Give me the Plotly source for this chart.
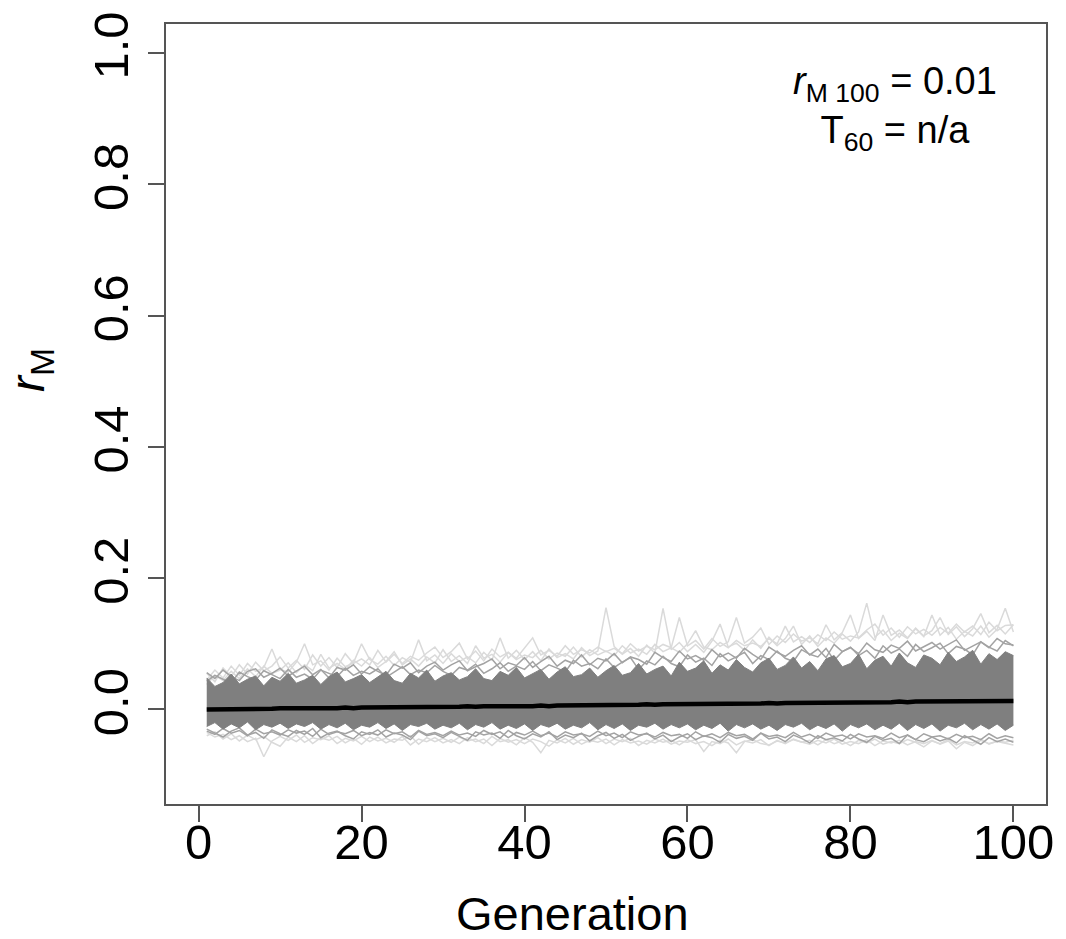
import plotly.graph_objects as go

# ---------------- data ----------------
generation = list(range(1, 101))

mean_rM = [0.000, 0.000, 0.001, 0.001, 0.001, 0.001, 0.000, 0.001, 0.001, 0.002,
           0.002, 0.001, 0.002, 0.002, 0.002, 0.002, 0.002, 0.003, 0.002, 0.003,
           0.003, 0.003, 0.003, 0.004, 0.003, 0.003, 0.004, 0.004, 0.004, 0.004,
           0.004, 0.004, 0.005, 0.004, 0.005, 0.005, 0.005, 0.004, 0.005, 0.005,
           0.005, 0.006, 0.005, 0.006, 0.006, 0.006, 0.006, 0.007, 0.006, 0.007,
           0.007, 0.007, 0.007, 0.007, 0.008, 0.007, 0.008, 0.008, 0.008, 0.008,
           0.008, 0.008, 0.009, 0.008, 0.009, 0.009, 0.009, 0.009, 0.009, 0.010,
           0.009, 0.010, 0.010, 0.010, 0.010, 0.010, 0.010, 0.011, 0.010, 0.011,
           0.011, 0.011, 0.011, 0.011, 0.011, 0.012, 0.011, 0.012, 0.012, 0.012,
           0.012, 0.012, 0.012, 0.013, 0.012, 0.013, 0.013, 0.013, 0.013, 0.013]

# dense core of replicate lines (upper / lower edge)
core_upper = [0.048, 0.035, 0.041, 0.054, 0.039, 0.046, 0.051, 0.036, 0.049, 0.043,
              0.055, 0.040, 0.045, 0.052, 0.038, 0.050, 0.057, 0.042, 0.047, 0.053,
              0.041, 0.049, 0.058, 0.044, 0.040, 0.055, 0.048, 0.060, 0.043, 0.051,
              0.056, 0.045, 0.050, 0.062, 0.047, 0.044, 0.058, 0.052, 0.064, 0.048,
              0.054, 0.061, 0.046, 0.057, 0.065, 0.050, 0.053, 0.063, 0.049, 0.059,
              0.067, 0.052, 0.056, 0.070, 0.054, 0.061, 0.066, 0.051, 0.072, 0.058,
              0.063, 0.074, 0.055, 0.068, 0.060, 0.076, 0.064, 0.057, 0.071, 0.078,
              0.061, 0.067, 0.080, 0.063, 0.073, 0.059, 0.077, 0.082, 0.065, 0.070,
              0.084, 0.062, 0.075, 0.081, 0.066, 0.086, 0.071, 0.064, 0.083, 0.078,
              0.068, 0.087, 0.073, 0.080, 0.090, 0.069, 0.085, 0.076, 0.088, 0.082]

core_lower = [-0.026, -0.020, -0.030, -0.022, -0.028, -0.019, -0.031, -0.023, -0.027, -0.021,
              -0.029, -0.022, -0.026, -0.020, -0.030, -0.023, -0.028, -0.021, -0.031, -0.024,
              -0.027, -0.020, -0.029, -0.022, -0.032, -0.023, -0.026, -0.021, -0.030, -0.024,
              -0.028, -0.021, -0.031, -0.023, -0.027, -0.020, -0.030, -0.024, -0.029, -0.022,
              -0.032, -0.023, -0.027, -0.021, -0.030, -0.024, -0.028, -0.020, -0.031, -0.023,
              -0.029, -0.022, -0.032, -0.024, -0.027, -0.021, -0.030, -0.023, -0.028, -0.022,
              -0.031, -0.024, -0.029, -0.021, -0.033, -0.023, -0.028, -0.022, -0.030, -0.024,
              -0.032, -0.023, -0.027, -0.021, -0.031, -0.024, -0.029, -0.022, -0.033, -0.023,
              -0.028, -0.022, -0.031, -0.024, -0.030, -0.021, -0.032, -0.023, -0.029, -0.022,
              -0.033, -0.024, -0.028, -0.021, -0.031, -0.023, -0.030, -0.022, -0.032, -0.024]

# medium-grey fringe replicates
mid_hi = [0.056, 0.047, 0.060, 0.050, 0.044, 0.058, 0.062, 0.049, 0.055, 0.063,
          0.051, 0.059, 0.066, 0.053, 0.061, 0.048, 0.064, 0.060, 0.068, 0.054,
          0.065, 0.058, 0.052, 0.069, 0.063, 0.071, 0.056, 0.066, 0.072, 0.060,
          0.068, 0.074, 0.059, 0.065, 0.070, 0.077, 0.062, 0.071, 0.067, 0.079,
          0.064, 0.073, 0.081, 0.066, 0.075, 0.070, 0.083, 0.068, 0.078, 0.074,
          0.085, 0.071, 0.080, 0.076, 0.069, 0.087, 0.079, 0.073, 0.089, 0.077,
          0.082, 0.075, 0.091, 0.080, 0.086, 0.078, 0.093, 0.084, 0.076, 0.095,
          0.087, 0.081, 0.090, 0.097, 0.083, 0.092, 0.079, 0.099, 0.088, 0.094,
          0.085, 0.101, 0.091, 0.087, 0.098, 0.093, 0.104, 0.089, 0.096, 0.102,
          0.092, 0.099, 0.106, 0.090, 0.097, 0.103, 0.094, 0.108, 0.100, 0.098]

mid_hi_2 = [0.043, 0.052, 0.046, 0.040, 0.057, 0.050, 0.045, 0.059, 0.053, 0.047,
            0.061, 0.049, 0.054, 0.046, 0.060, 0.055, 0.050, 0.063, 0.052, 0.058,
            0.054, 0.062, 0.049, 0.057, 0.065, 0.053, 0.060, 0.056, 0.067, 0.058,
            0.052, 0.064, 0.060, 0.069, 0.055, 0.062, 0.071, 0.058, 0.066, 0.061,
            0.073, 0.059, 0.068, 0.063, 0.057, 0.075, 0.066, 0.070, 0.062, 0.077,
            0.064, 0.072, 0.079, 0.061, 0.074, 0.068, 0.081, 0.070, 0.065, 0.083,
            0.072, 0.078, 0.067, 0.085, 0.074, 0.080, 0.087, 0.070, 0.082, 0.076,
            0.089, 0.078, 0.073, 0.091, 0.084, 0.080, 0.093, 0.075, 0.088, 0.095,
            0.082, 0.090, 0.078, 0.097, 0.086, 0.092, 0.081, 0.099, 0.088, 0.094,
            0.101, 0.085, 0.096, 0.092, 0.083, 0.103, 0.095, 0.089, 0.105, 0.097]

mid_lo = [-0.033, -0.038, -0.029, -0.036, -0.032, -0.040, -0.030, -0.037, -0.034, -0.039,
          -0.031, -0.036, -0.033, -0.041, -0.030, -0.038, -0.034, -0.037, -0.032, -0.040,
          -0.035, -0.039, -0.031, -0.037, -0.034, -0.042, -0.032, -0.038, -0.035, -0.040,
          -0.033, -0.039, -0.036, -0.041, -0.032, -0.038, -0.034, -0.043, -0.035, -0.039,
          -0.033, -0.040, -0.036, -0.042, -0.034, -0.039, -0.037, -0.041, -0.033, -0.040,
          -0.036, -0.043, -0.034, -0.039, -0.037, -0.042, -0.035, -0.040, -0.038, -0.044,
          -0.034, -0.041, -0.037, -0.043, -0.035, -0.040, -0.038, -0.045, -0.036, -0.041,
          -0.039, -0.043, -0.035, -0.042, -0.038, -0.044, -0.036, -0.041, -0.039, -0.045,
          -0.037, -0.042, -0.040, -0.044, -0.036, -0.043, -0.039, -0.046, -0.037, -0.042,
          -0.040, -0.045, -0.038, -0.043, -0.041, -0.046, -0.037, -0.044, -0.040, -0.043]

mid_lo_2 = [-0.030, -0.036, -0.042, -0.033, -0.028, -0.039, -0.035, -0.044, -0.031, -0.037,
            -0.041, -0.032, -0.038, -0.029, -0.043, -0.036, -0.033, -0.040, -0.045, -0.034,
            -0.038, -0.031, -0.042, -0.036, -0.039, -0.046, -0.033, -0.040, -0.037, -0.043,
            -0.035, -0.041, -0.047, -0.034, -0.039, -0.036, -0.044, -0.032, -0.040, -0.045,
            -0.037, -0.042, -0.034, -0.046, -0.039, -0.043, -0.036, -0.048, -0.040, -0.035,
            -0.044, -0.038, -0.047, -0.041, -0.036, -0.045, -0.039, -0.049, -0.042, -0.037,
            -0.046, -0.040, -0.043, -0.050, -0.038, -0.044, -0.041, -0.047, -0.036, -0.045,
            -0.042, -0.049, -0.039, -0.044, -0.051, -0.040, -0.046, -0.043, -0.048, -0.038,
            -0.045, -0.050, -0.041, -0.047, -0.044, -0.052, -0.039, -0.046, -0.049, -0.042,
            -0.048, -0.044, -0.051, -0.040, -0.047, -0.053, -0.043, -0.049, -0.045, -0.050]

# sparse light-grey outlying replicates
light_hi_a = [0.045, 0.060, 0.048, 0.066, 0.052, 0.070, 0.058, 0.064, 0.092, 0.061,
              0.057, 0.072, 0.100, 0.068, 0.074, 0.060, 0.078, 0.065, 0.071, 0.100,
              0.076, 0.069, 0.081, 0.067, 0.079, 0.072, 0.106, 0.074, 0.083, 0.070,
              0.085, 0.073, 0.080, 0.071, 0.087, 0.075, 0.109, 0.078, 0.090, 0.076,
              0.088, 0.074, 0.092, 0.079, 0.085, 0.077, 0.094, 0.082, 0.089, 0.155,
              0.096, 0.084, 0.093, 0.081, 0.098, 0.086, 0.154, 0.091, 0.102, 0.088,
              0.099, 0.087, 0.104, 0.130, 0.095, 0.101, 0.090, 0.106, 0.093, 0.110,
              0.097, 0.108, 0.127, 0.099, 0.112, 0.096, 0.109, 0.101, 0.115, 0.104,
              0.118, 0.162, 0.110, 0.121, 0.105, 0.116, 0.108, 0.123, 0.111, 0.144,
              0.113, 0.125, 0.107, 0.119, 0.112, 0.127, 0.110, 0.122, 0.154, 0.118]

light_hi_b = [0.055, 0.042, 0.063, 0.050, 0.068, 0.054, 0.072, 0.059, 0.066, 0.080,
              0.063, 0.075, 0.061, 0.083, 0.066, 0.079, 0.064, 0.085, 0.070, 0.077,
              0.068, 0.090, 0.072, 0.084, 0.070, 0.081, 0.075, 0.086, 0.095, 0.079,
              0.088, 0.101, 0.077, 0.089, 0.074, 0.092, 0.080, 0.087, 0.078, 0.094,
              0.109, 0.083, 0.090, 0.081, 0.097, 0.084, 0.091, 0.086, 0.095, 0.088,
              0.093, 0.085, 0.100, 0.089, 0.096, 0.091, 0.099, 0.094, 0.140, 0.097,
              0.105, 0.092, 0.108, 0.096, 0.103, 0.140, 0.101, 0.110, 0.124, 0.099,
              0.112, 0.102, 0.115, 0.104, 0.109, 0.100, 0.129, 0.106, 0.117, 0.144,
              0.108, 0.119, 0.105, 0.144, 0.113, 0.121, 0.109, 0.124, 0.112, 0.120,
              0.140, 0.114, 0.126, 0.111, 0.123, 0.146, 0.117, 0.128, 0.115, 0.129]

light_hi_c = [0.038, 0.052, 0.044, 0.058, 0.047, 0.062, 0.050, 0.066, 0.055, 0.060,
              0.071, 0.056, 0.068, 0.059, 0.084, 0.063, 0.070, 0.061, 0.075, 0.066,
              0.079, 0.064, 0.073, 0.088, 0.068, 0.077, 0.066, 0.080, 0.071, 0.091,
              0.073, 0.082, 0.070, 0.097, 0.078, 0.084, 0.072, 0.087, 0.076, 0.083,
              0.079, 0.090, 0.077, 0.086, 0.081, 0.095, 0.080, 0.091, 0.083, 0.089,
              0.082, 0.097, 0.086, 0.092, 0.084, 0.099, 0.088, 0.094, 0.087, 0.100,
              0.120, 0.095, 0.091, 0.102, 0.094, 0.105, 0.097, 0.101, 0.096, 0.108,
              0.100, 0.127, 0.103, 0.111, 0.102, 0.114, 0.105, 0.118, 0.107, 0.112,
              0.109, 0.121, 0.130, 0.113, 0.124, 0.110, 0.126, 0.115, 0.122, 0.113,
              0.125, 0.116, 0.130, 0.118, 0.127, 0.114, 0.133, 0.120, 0.128, 0.129]

light_lo_a = [-0.035, -0.042, -0.038, -0.046, -0.040, -0.049, -0.044, -0.072, -0.048, -0.041,
              -0.047, -0.039, -0.050, -0.043, -0.046, -0.040, -0.052, -0.044, -0.048, -0.041,
              -0.049, -0.042, -0.051, -0.045, -0.047, -0.040, -0.053, -0.043, -0.049, -0.044,
              -0.050, -0.042, -0.048, -0.045, -0.052, -0.041, -0.049, -0.046, -0.054, -0.043,
              -0.050, -0.066, -0.047, -0.051, -0.044, -0.053, -0.046, -0.050, -0.043, -0.052,
              -0.045, -0.049, -0.044, -0.055, -0.047, -0.051, -0.045, -0.053, -0.048, -0.050,
              -0.046, -0.064, -0.049, -0.052, -0.045, -0.054, -0.048, -0.051, -0.046, -0.055,
              -0.047, -0.052, -0.045, -0.050, -0.047, -0.054, -0.046, -0.052, -0.048, -0.055,
              -0.047, -0.051, -0.045, -0.053, -0.049, -0.052, -0.046, -0.050, -0.057, -0.048,
              -0.052, -0.046, -0.054, -0.049, -0.051, -0.045, -0.053, -0.048, -0.050, -0.047]

light_lo_b = [-0.040, -0.034, -0.045, -0.037, -0.048, -0.039, -0.046, -0.041, -0.050, -0.056,
              -0.042, -0.049, -0.040, -0.052, -0.043, -0.047, -0.041, -0.051, -0.044, -0.053,
              -0.042, -0.048, -0.044, -0.050, -0.041, -0.054, -0.045, -0.049, -0.043, -0.051,
              -0.046, -0.052, -0.043, -0.049, -0.045, -0.055, -0.044, -0.050, -0.046, -0.052,
              -0.045, -0.049, -0.056, -0.046, -0.051, -0.044, -0.053, -0.047, -0.050, -0.045,
              -0.054, -0.046, -0.051, -0.048, -0.053, -0.045, -0.050, -0.047, -0.054, -0.046,
              -0.052, -0.049, -0.055, -0.047, -0.051, -0.066, -0.049, -0.046, -0.052, -0.054,
              -0.048, -0.051, -0.046, -0.050, -0.053, -0.047, -0.051, -0.045, -0.053, -0.049,
              -0.052, -0.046, -0.055, -0.048, -0.051, -0.047, -0.054, -0.049, -0.052, -0.047,
              -0.053, -0.048, -0.060, -0.050, -0.055, -0.047, -0.052, -0.049, -0.051, -0.054]

x_ticks = [0, 20, 40, 60, 80, 100]
y_ticks = [0.0, 0.2, 0.4, 0.6, 0.8, 1.0]
y_tick_labels = ["0.0", "0.2", "0.4", "0.6", "0.8", "1.0"]

# ---------------- styling ----------------
FONT = "Liberation Sans, Arial, Helvetica, sans-serif"
LIGHT = "#dadada"
MID = "#a3a3a3"
CORE = "#7f7f7f"
AXIS = "#555555"

fig = go.Figure()

for series in (light_hi_a, light_hi_b, light_hi_c, light_lo_a, light_lo_b):
    fig.add_trace(go.Scatter(x=generation, y=series, mode="lines",
                             line=dict(color=LIGHT, width=1.5),
                             hoverinfo="skip", showlegend=False))

for series in (mid_hi, mid_hi_2, mid_lo, mid_lo_2):
    fig.add_trace(go.Scatter(x=generation, y=series, mode="lines",
                             line=dict(color=MID, width=1.5),
                             hoverinfo="skip", showlegend=False))

fig.add_trace(go.Scatter(x=generation, y=core_lower, mode="lines",
                         line=dict(color=CORE, width=1),
                         hoverinfo="skip", showlegend=False))
fig.add_trace(go.Scatter(x=generation, y=core_upper, mode="lines",
                         line=dict(color=CORE, width=1),
                         fill="tonexty", fillcolor=CORE,
                         hoverinfo="skip", showlegend=False))

fig.add_trace(go.Scatter(x=generation, y=mean_rM, mode="lines",
                         line=dict(color="#000000", width=4.5),
                         hoverinfo="skip", showlegend=False))

axis_common = dict(showline=True, linecolor=AXIS, linewidth=2, mirror=True,
                   ticks="outside", ticklen=16, tickwidth=1.5, tickcolor=AXIS,
                   showgrid=False, zeroline=False,
                   tickfont=dict(family=FONT, size=49, color="#000000"))

fig.update_layout(
    width=1066, height=939,
    margin=dict(l=166, r=16, t=16, b=135),
    paper_bgcolor="white", plot_bgcolor="white",
    font=dict(family=FONT, color="#000000"),
    xaxis=dict(range=[-4, 104], tickvals=x_ticks, ticklabelstandoff=-22,
               **axis_common),
    yaxis=dict(range=[-0.144, 1.044], tickvals=y_ticks, ticktext=y_tick_labels,
               tickangle=-90, ticklabelstandoff=0, **axis_common),
    annotations=[
        dict(text="Generation", xref="paper", yref="paper", x=0.4615, y=0,
             xanchor="center", yanchor="middle", yshift=-109, showarrow=False,
             font=dict(family=FONT, size=47, color="#000000")),
        dict(text="<i>r</i><sub>M</sub>", xref="paper", yref="paper",
             x=-0.154, y=0.557, xanchor="center", yanchor="middle",
             textangle=-90, showarrow=False,
             font=dict(family=FONT, size=48, color="#000000")),
        dict(text="<i>r</i><sub>M 100</sub> = 0.01<br>T<sub>60</sub> = n/a",
             xref="paper", yref="paper", x=0.828, y=1, xanchor="center",
             yanchor="top", yshift=-34, align="center", showarrow=False,
             font=dict(family=FONT, size=38, color="#000000")),
    ],
)

fig.write_html("out.html")
